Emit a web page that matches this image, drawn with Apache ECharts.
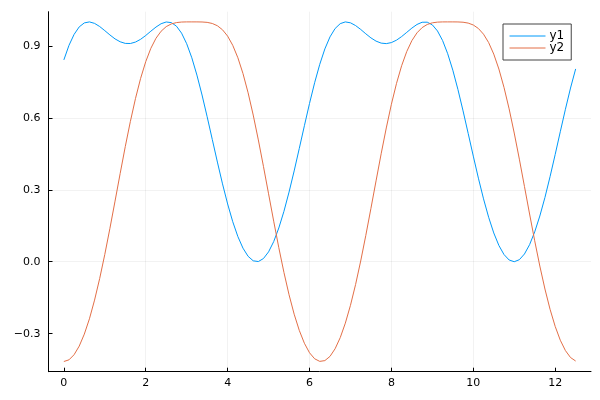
<!DOCTYPE html>
<html>
<head>
<meta charset="utf-8">
<script src="https://cdn.jsdelivr.net/npm/echarts@6/dist/echarts.min.js"></script>
<style>
html,body{margin:0;padding:0;background:#fff;}
#chart{width:600px;height:400px;}
</style>
</head>
<body>
<div id="chart"></div>
<script>
const xs = [0,0.125,0.25,0.375,0.5,0.625,0.75,0.875,1,1.125,1.25,1.375,1.5,1.625,1.75,1.875,2,2.125,2.25,2.375,2.5,2.625,2.75,2.875,3,3.125,3.25,3.375,3.5,3.625,3.75,3.875,4,4.125,4.25,4.375,4.5,4.625,4.75,4.875,5,5.125,5.25,5.375,5.5,5.625,5.75,5.875,6,6.125,6.25,6.375,6.5,6.625,6.75,6.875,7,7.125,7.25,7.375,7.5,7.625,7.75,7.875,8,8.125,8.25,8.375,8.5,8.625,8.75,8.875,9,9.125,9.25,9.375,9.5,9.625,9.75,9.875,10,10.125,10.25,10.375,10.5,10.625,10.75,10.875,11,11.125,11.25,11.375,11.5,11.625,11.75,11.875,12,12.125,12.25,12.375,12.5];
const y1 = [0.8415,0.9021,0.9478,0.9792,0.9958,0.9999,0.9938,0.9807,0.9635,0.9456,0.9291,0.9171,0.9103,0.9099,0.9159,0.9274,0.9433,0.9612,0.9784,0.9924,0.9996,0.9970,0.9822,0.9531,0.9090,0.8504,0.7782,0.6952,0.6046,0.5100,0.4154,0.3246,0.2408,0.1668,0.1048,0.0565,0.0225,0.0038,0.0007,0.0132,0.0411,0.0838,0.1406,0.2100,0.2903,0.3786,0.4722,0.5671,0.6598,0.7463,0.8231,0.8874,0.9375,0.9724,0.9927,0.9999,0.9962,0.9847,0.9686,0.9503,0.9333,0.9198,0.9115,0.9094,0.9137,0.9239,0.9388,0.9564,0.9741,0.9893,0.9985,0.9988,0.9875,0.9623,0.9223,0.8673,0.7986,0.7182,0.6290,0.5353,0.4404,0.3483,0.2622,0.1853,0.1200,0.0677,0.0300,0.0072,0.0000,0.0084,0.0322,0.0711,0.1242,0.1905,0.2679,0.3546,0.4470,0.5420,0.6357,0.7242,0.8039];
const y2 = [-0.4161,-0.4091,-0.3877,-0.3520,-0.3019,-0.2379,-0.1601,-0.0701,0.0305,0.1391,0.2526,0.3675,0.4800,0.5851,0.6809,0.7645,0.8343,0.8899,0.9317,0.9611,0.9803,0.9915,0.9971,0.9994,1.0000,1.0000,1.0000,0.9996,0.9980,0.9934,0.9839,0.9671,0.9406,0.9023,0.8505,0.7847,0.7044,0.6116,0.5079,0.3976,0.2832,0.1690,0.0586,-0.0445,-0.1376,-0.2188,-0.2863,-0.3401,-0.3796,-0.4047,-0.4156,-0.4123,-0.3948,-0.3629,-0.3166,-0.2562,-0.1819,-0.0953,0.0029,0.1097,0.2224,0.3371,0.4502,0.5578,0.6566,0.7437,0.8172,0.8765,0.9218,0.9544,0.9761,0.9892,0.9961,0.9990,0.9999,1.0000,1.0000,0.9998,0.9986,0.9950,0.9871,0.9725,0.9487,0.9137,0.8656,0.8034,0.7270,0.6375,0.5366,0.4276,0.3137,0.1990,0.0874,-0.0180,-0.1139,-0.1983,-0.2697,-0.3273,-0.3705,-0.3995,-0.4141];
const seriesNames = ['y1','y2'];
const xTicks = [0,2,4,6,8,10,12];
const yTicks = [-0.3,0,0.3,0.6,0.9];

const chart = echarts.init(document.getElementById('chart'), null, {renderer:'canvas'});
const font = 'DejaVu Sans';
chart.setOption({
  animation:false,
  backgroundColor:'#fff',
  textStyle:{fontFamily:font},
  grid:{left:48.5,right:9,top:11.7,bottom:28.3,containLabel:false},
  legend:{
    left:503,top:24,orient:'vertical',
    padding:[6,7,6,6],itemGap:0,itemWidth:36,itemHeight:13.3,
    borderColor:'#444',borderWidth:1,backgroundColor:'#fff',
    itemStyle:{opacity:0},
    lineStyle:{width:1},
    textStyle:{fontSize:12,color:'#000',fontFamily:font,padding:[0,0,0,-1]},
    data:seriesNames
  },
  xAxis:{
    type:'value',min:-0.375,max:12.875,interval:2,
    axisLine:{show:true,onZero:false,lineStyle:{color:'#000',width:1}},
    axisTick:{show:true,inside:true,length:4,lineStyle:{color:'#000'},customValues:xTicks},
    axisLabel:{color:'#000',fontSize:11,margin:6,customValues:xTicks,formatter:v=>String(v).replace('-','\u2212')},
    splitLine:{show:true,showMinLine:false,showMaxLine:false,lineStyle:{color:'rgba(0,0,0,0.1)',width:0.5}}
  },
  yAxis:{
    type:'value',min:-0.4586,max:1.0425,interval:0.3,
    axisLine:{show:true,onZero:false,lineStyle:{color:'#000',width:1}},
    axisTick:{show:true,inside:true,length:4,lineStyle:{color:'#000'},customValues:yTicks},
    axisLabel:{color:'#000',fontSize:11,margin:8,customValues:yTicks,formatter:v=>v.toFixed(1).replace('-','\u2212')},
    splitLine:{show:true,showMinLine:false,showMaxLine:false,lineStyle:{color:'rgba(0,0,0,0.1)',width:0.5}}
  },
  series:[
    {name:seriesNames[0],type:'line',symbol:'none',smooth:false,data:xs.map((x,i)=>[x,y1[i]]),lineStyle:{color:'#009AFA',width:1},itemStyle:{color:'#009AFA'}},
    {name:seriesNames[1],type:'line',symbol:'none',smooth:false,data:xs.map((x,i)=>[x,y2[i]]),lineStyle:{color:'#E36F47',width:1},itemStyle:{color:'#E36F47'}}
  ]
});
</script>
</body>
</html>
